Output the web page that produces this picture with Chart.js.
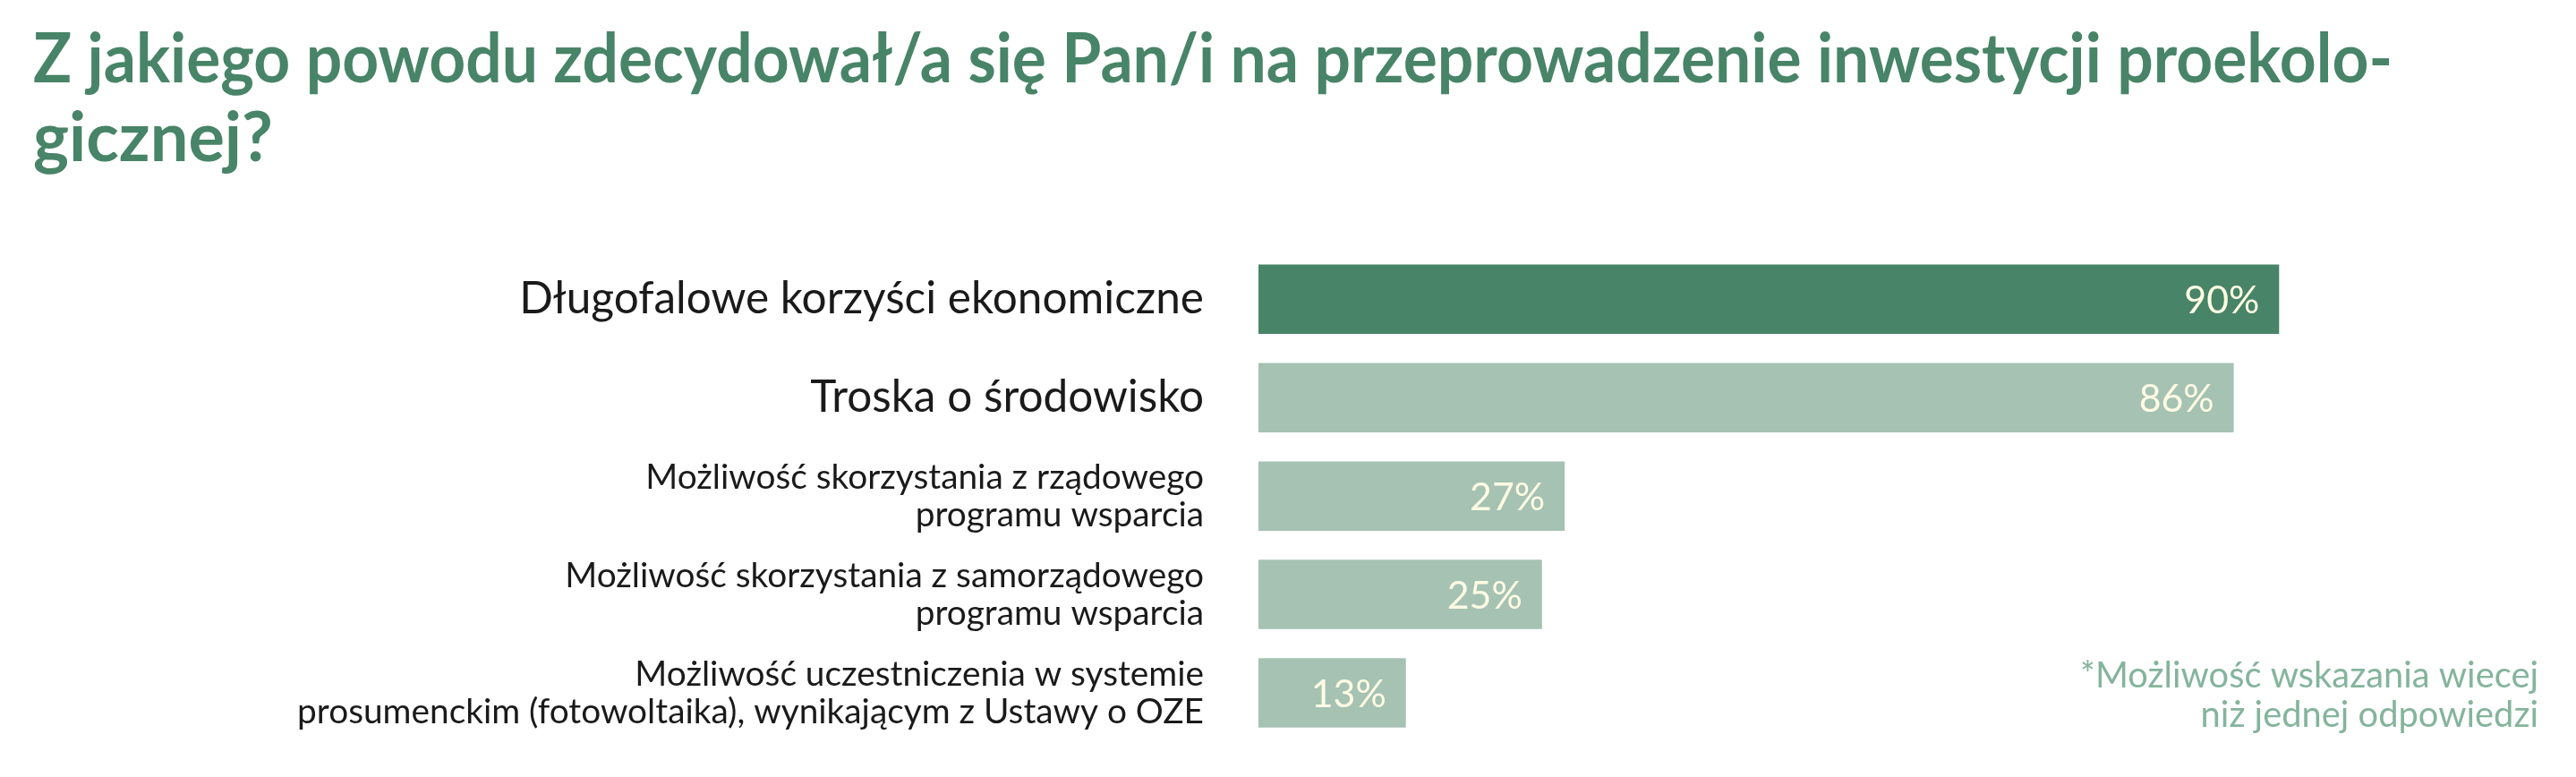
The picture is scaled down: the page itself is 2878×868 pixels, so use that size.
<!DOCTYPE html>
<html lang="pl">
<head>
<meta charset="utf-8">
<script src="https://cdn.jsdelivr.net/npm/chart.js@4.4.1/dist/chart.umd.min.js"></script>
<style>
  html, body { margin: 0; padding: 0; background: #ffffff; }
  #wrap { width: 2878px; height: 868px; position: relative; }
</style>
</head>
<body>
<div id="wrap"><canvas id="myChart"></canvas></div>
<script>
// dane z wykresu
const titleLines = [
    'Z jakiego powodu zdecydował/a się Pan/i na przeprowadzenie inwestycji proekolo-',
    'gicznej?'
];
const categories = [
    ['Długofalowe korzyści ekonomiczne'],
    ['Troska o środowisko'],
    ['Możliwość skorzystania z rządowego', 'programu wsparcia'],
    ['Możliwość skorzystania z samorządowego', 'programu wsparcia'],
    ['Możliwość uczestniczenia w systemie', 'prosumenckim (fotowoltaika), wynikającym z Ustawy o OZE']
];
const values = [90, 86, 27, 25, 13];
const footnote = ['*Możliwość wskazania wiecej', 'niż jednej odpowiedzi'];

const darkGreen = '#488467';
const lightGreen = '#a5c2b3';
const cream = '#fffbe3';
const noteGreen = '#84b49c';
const fam = 'Lato, "Open Sans", sans-serif';

// dopasowanie rozmiaru fontu do szerokosci
function fitSize(text, weight, width) {
    const c = document.createElement('canvas').getContext('2d');
    c.font = weight + ' 100px ' + fam;
    return 100 * width / c.measureText(text).width;
}

const titleSize = fitSize(titleLines[0], 700, 2800);
const bigSize = fitSize(categories[0][0], 400, 765);
const smallSize = fitSize(categories[4][1], 400, 1013);
const valueSize = fitSize('90%', 400, 84);
const noteSize = fitSize(footnote[0], 400, 512);

const valueLabels = {
    id: 'valueLabels',
    afterDatasetsDraw(chart) {
        const ctx = chart.ctx;
        const meta = chart.getDatasetMeta(0);
        ctx.save();
        ctx.fillStyle = cream;
        ctx.font = '400 ' + valueSize + 'px ' + fam;
        ctx.textAlign = 'right';
        ctx.textBaseline = 'middle';
        meta.data.forEach((bar, i) => {
            ctx.fillText(values[i] + '%', bar.x - 22, bar.y + 2);
        });
        ctx.restore();
    }
};

const footNote = {
    id: 'footNote',
    afterDraw(chart) {
        const ctx = chart.ctx;
        ctx.save();
        ctx.fillStyle = noteGreen;
        ctx.font = '400 ' + noteSize + 'px ' + fam;
        ctx.textAlign = 'right';
        ctx.textBaseline = 'alphabetic';
        ctx.fillText(footnote[0], 2836, 768);
        ctx.fillText(footnote[1], 2836, 812);
        ctx.restore();
    }
};

const ctx = document.getElementById('myChart');
const myChart = new Chart(ctx, {
    type: 'bar',
    data: {
        labels: categories,
        datasets: [{
            data: values,
            backgroundColor: values.map((v, i) => i === 0 ? darkGreen : lightGreen),
            borderWidth: 0,
            barPercentage: 0.705,
            categoryPercentage: 1
        }]
    },
    options: {
        indexAxis: 'y',
        responsive: true,
        maintainAspectRatio: false,
        animation: false,
        devicePixelRatio: 1,
        layout: {
            padding: { left: 37, right: 205, top: 0, bottom: 39 }
        },
        scales: {
            x: {
                display: false,
                min: 0,
                max: 100
            },
            y: {
                grid: { display: false, drawTicks: false },
                border: { display: false },
                ticks: {
                    color: '#1a1a1a',
                    padding: 61,
                    font: (c) => c.index < 2
                        ? { family: fam, size: bigSize, weight: 400, lineHeight: 1.2 }
                        : { family: fam, size: smallSize, weight: 400, lineHeight: 42 / smallSize }
                },
                afterFit(scale) {
                    scale.width = 1406 - 37;
                    scale.paddingTop = 0;
                    scale.paddingBottom = 0;
                }
            }
        },
        plugins: {
            legend: { display: false },
            tooltip: { enabled: false },
            title: {
                display: true,
                text: titleLines,
                align: 'start',
                color: darkGreen,
                font: { family: fam, size: titleSize, weight: 700, lineHeight: 88.3 / titleSize },
                padding: { top: 23.5, bottom: 79.3 }
            }
        }
    },
    plugins: [valueLabels, footNote]
});
</script>
</body>
</html>
